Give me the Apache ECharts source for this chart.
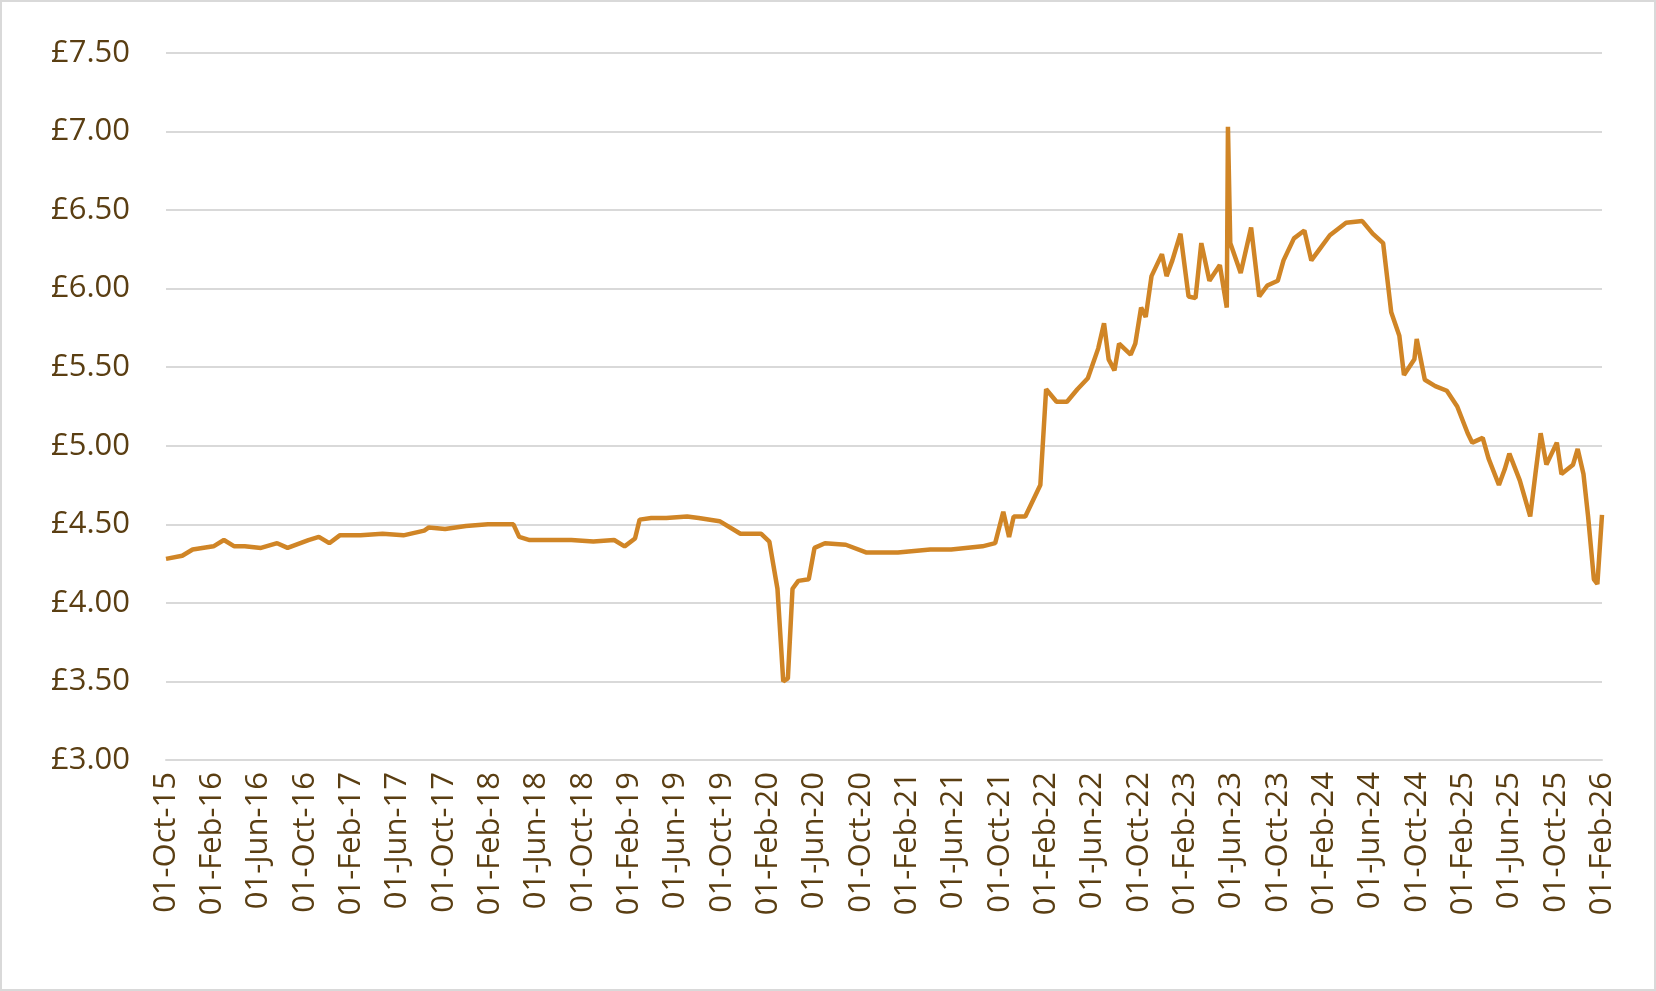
<!DOCTYPE html>
<html><head><meta charset="utf-8">
<script src="https://cdn.jsdelivr.net/npm/echarts@6/dist/echarts.min.js"></script>
<style>html,body{margin:0;padding:0;background:#fff}#c{width:1656px;height:991px;box-sizing:border-box;border:2px solid #d9d9d9}</style>
</head><body><div id="c"></div>
<script>
const monthNames=['Oct','Feb','Jun'];
const startYear=15;
const months=[0,1.4,2.3,4.1,5.0,5.9,6.8,8.2,9.6,10.5,12.3,13.2,14.1,15.0,16.8,18.7,20.5,22.3,22.7,24.1,25.9,27.8,29.6,30.0,30.5,31.4,33.2,35.0,36.9,38.7,39.6,40.5,40.9,41.9,43.2,45.0,46.0,47.8,49.6,51.4,52.1,52.8,53.3,53.7,54.1,54.6,55.5,56.0,56.9,58.7,60.5,63.2,66.0,67.8,70.5,71.6,72.3,72.8,73.2,74.2,75.5,76.0,76.9,77.8,78.7,79.6,80.5,81.0,81.4,81.9,82.3,83.3,83.7,84.2,84.6,85.1,86.0,86.4,86.9,87.6,88.3,88.9,89.4,90.1,91.0,91.6,91.7,91.9,92.8,93.7,94.4,95.1,96.0,96.5,97.4,98.3,98.9,99.6,100.5,101.9,103.3,104.2,105.1,105.8,106.5,106.9,107.8,108.0,108.7,109.6,110.6,111.5,112.4,112.8,113.7,114.2,115.1,115.6,116.0,116.9,117.8,118.3,118.7,119.2,120.1,120.5,121.5,121.9,122.4,122.8,123.3,123.6,124.0];
const prices=[4.28,4.30,4.34,4.36,4.40,4.36,4.36,4.35,4.38,4.35,4.40,4.42,4.38,4.43,4.43,4.44,4.43,4.46,4.48,4.47,4.49,4.50,4.50,4.50,4.42,4.40,4.40,4.40,4.39,4.40,4.36,4.41,4.53,4.54,4.54,4.55,4.54,4.52,4.44,4.44,4.39,4.09,3.50,3.52,4.09,4.14,4.15,4.35,4.38,4.37,4.32,4.32,4.34,4.34,4.36,4.38,4.58,4.42,4.55,4.55,4.75,5.36,5.28,5.28,5.36,5.43,5.62,5.78,5.55,5.48,5.65,5.58,5.65,5.88,5.82,6.08,6.22,6.08,6.18,6.35,5.95,5.94,6.29,6.05,6.15,5.88,7.03,6.29,6.10,6.39,5.95,6.02,6.05,6.18,6.32,6.37,6.18,6.25,6.34,6.42,6.43,6.35,6.29,5.85,5.70,5.45,5.55,5.68,5.42,5.38,5.35,5.25,5.08,5.02,5.05,4.92,4.75,4.85,4.95,4.78,4.55,4.85,5.08,4.88,5.02,4.82,4.88,4.98,4.82,4.55,4.15,4.12,4.56];
const yTicks=[3,3.5,4,4.5,5,5.5,6,6.5,7,7.5];
const data=months.map((m,i)=>[m,prices[i]]);
const txt='#5a3e12';
const chart=echarts.init(document.getElementById('c'));
chart.setOption({
  animation:false,
  grid:{left:164,right:52,top:51,bottom:229},
  xAxis:{type:'value',min:0,max:124,interval:4,
    axisLine:{show:true,lineStyle:{color:'#d9d9d9',width:2}},axisTick:{show:false},splitLine:{show:false},
    axisLabel:{rotate:90,color:txt,fontSize:31,fontFamily:'Open Sans',margin:12,
      formatter:v=>{const k=Math.round(v/4);const mn=monthNames[k%3];const yr=startYear+Math.floor(k/3)+(k%3===0?0:1);return '01-'+mn+'-'+yr;}}},
  yAxis:{type:'value',min:yTicks[0],max:yTicks[yTicks.length-1],interval:0.5,
    axisLine:{show:false},axisTick:{show:false},
    splitLine:{lineStyle:{color:'#d9d9d9',width:2}},
    axisLabel:{color:txt,fontSize:31,fontFamily:'Open Sans',margin:36,formatter:v=>'£'+v.toFixed(2)}},
  series:[{type:'line',data:data,showSymbol:false,lineStyle:{color:'#d08526',width:4.5}}]
});
</script></body></html>
